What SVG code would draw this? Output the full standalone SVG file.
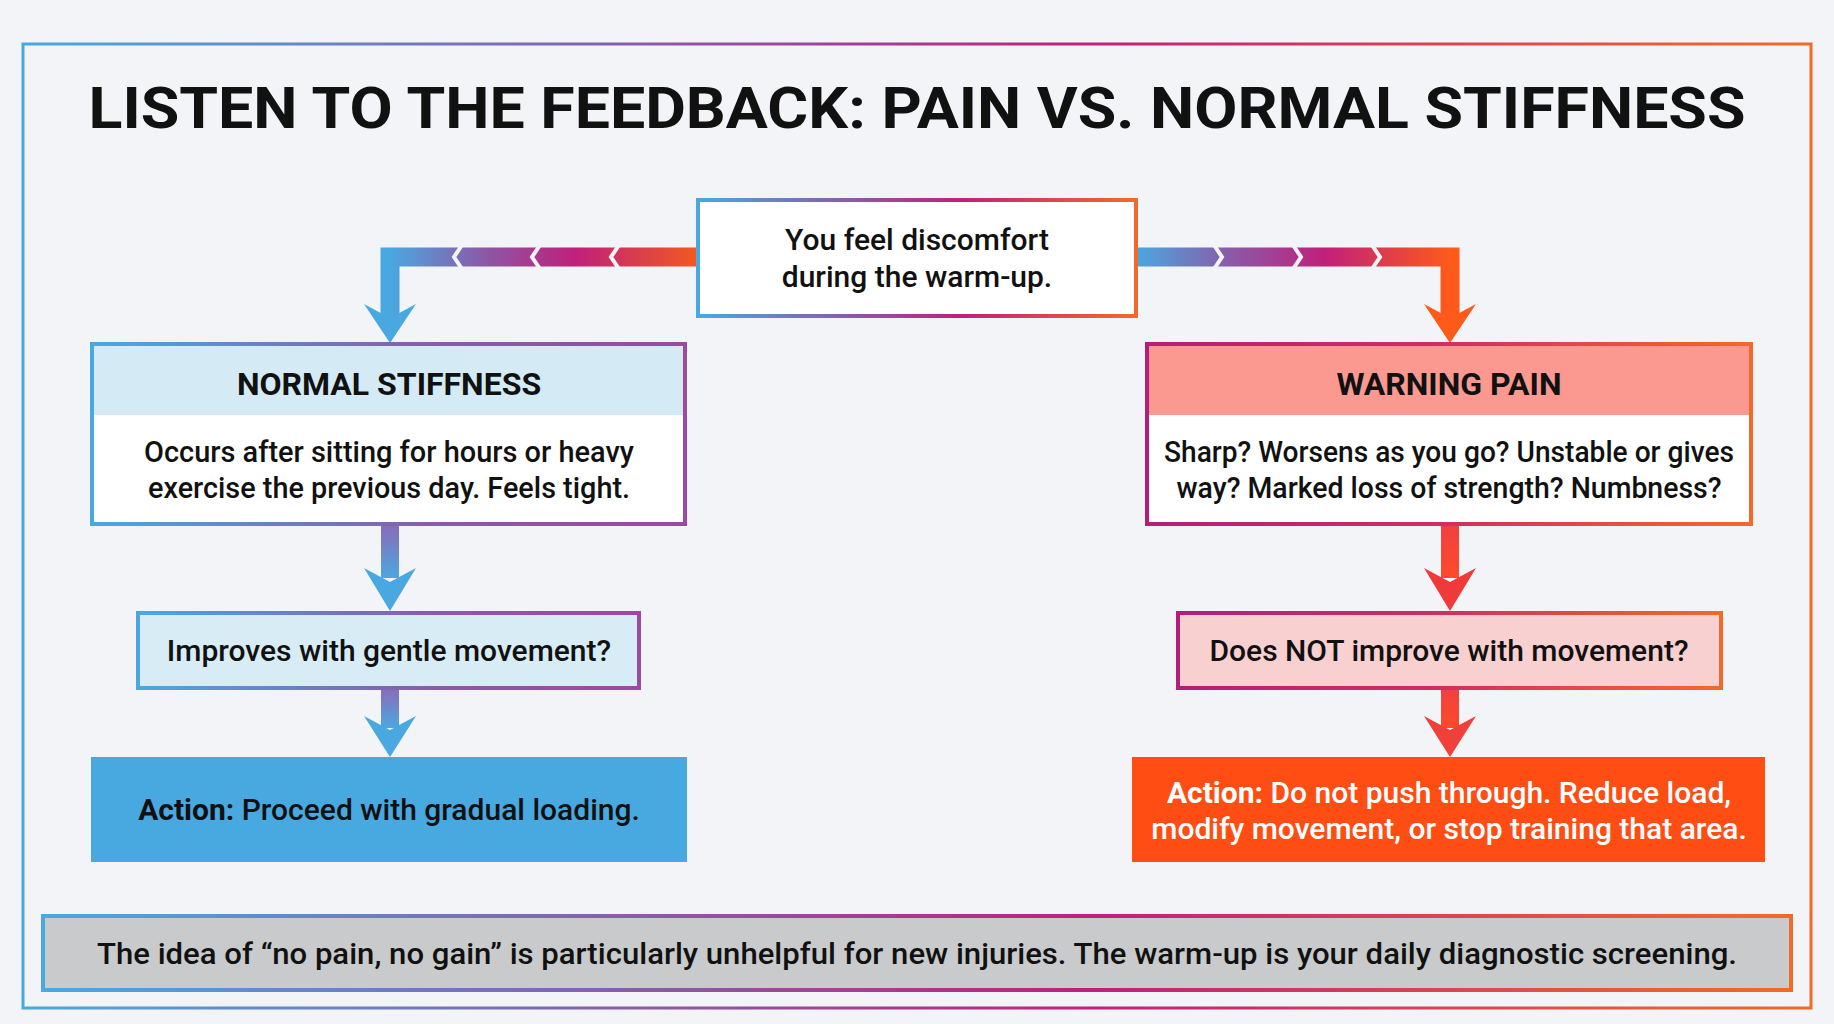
<svg xmlns="http://www.w3.org/2000/svg" width="1834" height="1024" viewBox="0 0 1834 1024">
<defs>
<linearGradient id="g" x1="0" y1="0" x2="1" y2="0"><stop offset="0" stop-color="#4aa8e0"/><stop offset="0.35" stop-color="#8a5aa8"/><stop offset="0.6" stop-color="#c0207a"/><stop offset="1" stop-color="#f26a2a"/></linearGradient>
<linearGradient id="gL" x1="0" y1="0" x2="1" y2="0"><stop offset="0" stop-color="#4aa8e0"/><stop offset="0.6" stop-color="#8a5aa8"/><stop offset="1" stop-color="#9a4aa0"/></linearGradient>
<linearGradient id="gR" x1="0" y1="0" x2="1" y2="0"><stop offset="0" stop-color="#b0207a"/><stop offset="0.5" stop-color="#d03060"/><stop offset="1" stop-color="#f26a2a"/></linearGradient>
<linearGradient id="gl" x1="1" y1="0" x2="0" y2="0"><stop offset="0" stop-color="#f25a20"/><stop offset="0.4" stop-color="#c0207a"/><stop offset="0.7" stop-color="#8a5aa8"/><stop offset="1" stop-color="#4aa8e0"/></linearGradient>
<linearGradient id="gr" x1="0" y1="0" x2="1" y2="0"><stop offset="0" stop-color="#4aa8e0"/><stop offset="0.3" stop-color="#8a5aa8"/><stop offset="0.6" stop-color="#c0207a"/><stop offset="1" stop-color="#ff5a1a"/></linearGradient>
<linearGradient id="gb" x1="0" y1="0" x2="0" y2="1"><stop offset="0" stop-color="#8a6ab8"/><stop offset="1" stop-color="#4aa8e0"/></linearGradient>
<linearGradient id="go" x1="0" y1="0" x2="0" y2="1"><stop offset="0" stop-color="#f04040"/><stop offset="1" stop-color="#ff4a2a"/></linearGradient>
<style>
text{font-family:Roboto,"Liberation Sans",sans-serif;fill:#111;text-anchor:middle}
.t{font-size:30px;font-weight:500}
.h{font-size:32px;font-weight:700}
.box{stroke:url(#g);stroke-width:4}
.bl{stroke:url(#gL);stroke-width:4}
.br{stroke:url(#gR);stroke-width:4}
</style>
</defs>
<rect width="1834" height="1024" fill="#f2f4f7"/>
<rect x="23" y="44" width="1788" height="964" fill="none" stroke="url(#g)" stroke-width="3"/>
<text x="917" y="128" font-size="58" font-weight="700" textLength="1657" lengthAdjust="spacingAndGlyphs">LISTEN TO THE FEEDBACK: PAIN VS. NORMAL STIFFNESS</text>
<g id="connectors">
<path d="M698 257 H390 V320" fill="none" stroke="url(#gl)" stroke-width="19"/>
<path d="M1136 257 H1450 V320" fill="none" stroke="url(#gr)" stroke-width="19"/>
<g fill="none" stroke="#f2f4f7" stroke-width="4">
<path d="M462 245 L454 257 L462 269"/><path d="M540 245 L532 257 L540 269"/><path d="M619 245 L611 257 L619 269"/>
<path d="M1214 245 L1222 257 L1214 269"/><path d="M1293 245 L1301 257 L1293 269"/><path d="M1372 245 L1380 257 L1372 269"/>
</g>
<polygon points="364,304 390,318 416,304 390,343" fill="#4aa8e0"/>
<polygon points="1424,304 1450,318 1476,304 1450,343" fill="#ff5a1a"/>
<rect x="381" y="524" width="18" height="54" fill="url(#gb)"/>
<polygon points="364,568 390,582 416,568 390,611" fill="#4aa8e0"/>
<rect x="381" y="688" width="18" height="40" fill="url(#gb)"/>
<polygon points="364,716 390,730 416,716 390,757" fill="#4aa8e0"/>
<rect x="1441" y="524" width="18" height="54" fill="url(#go)"/>
<polygon points="1424,568 1450,582 1476,568 1450,611" fill="#f03a3a"/>
<rect x="1441" y="688" width="18" height="40" fill="url(#go)"/>
<polygon points="1424,716 1450,730 1476,716 1450,757" fill="#f0403a"/>
</g>
<g id="start"><rect x="698" y="200" width="438" height="116" fill="#fff" class="box"/>
<text class="t" x="917" y="250">You feel discomfort</text><text class="t" x="917" y="287">during the warm-up.</text></g>
<g id="normal"><rect x="92" y="344" width="593" height="180" fill="#fff" class="bl"/>
<rect x="94" y="346" width="589" height="69" fill="#d4ebf5"/><line x1="92" y1="415" x2="685" y2="415" stroke="url(#gL)" stroke-width="4"/>
<text class="h" x="389" y="395">NORMAL STIFFNESS</text>
<text class="t" x="389" y="462" textLength="490" lengthAdjust="spacingAndGlyphs">Occurs after sitting for hours or heavy</text><text class="t" x="389" y="498" textLength="482" lengthAdjust="spacingAndGlyphs">exercise the previous day. Feels tight.</text></g>
<g id="warning"><rect x="1147" y="344" width="604" height="180" fill="#fff" class="br"/>
<rect x="1149" y="346" width="600" height="69" fill="#fb9890"/><line x1="1147" y1="415" x2="1751" y2="415" stroke="url(#gR)" stroke-width="4"/>
<text class="h" x="1449" y="395">WARNING PAIN</text>
<text class="t" x="1449" y="462" textLength="570" lengthAdjust="spacingAndGlyphs">Sharp? Worsens as you go? Unstable or gives</text><text class="t" x="1449" y="498" textLength="545" lengthAdjust="spacingAndGlyphs">way? Marked loss of strength? Numbness?</text></g>
<g id="improves"><rect x="138" y="613" width="501" height="75" fill="#d8ecf5" class="bl"/>
<text class="t" x="389" y="661">Improves with gentle movement?</text></g>
<g id="notimprove"><rect x="1178" y="613" width="543" height="75" fill="#f8d0d0" class="br"/>
<text class="t" x="1449" y="661">Does NOT improve with movement?</text></g>
<g id="actionL"><rect x="91" y="757" width="596" height="105" fill="#48a8e0"/>
<text class="t" x="389" y="820"><tspan font-weight="700">Action:</tspan> Proceed with gradual loading.</text></g>
<g id="actionR"><rect x="1132" y="757" width="633" height="105" fill="#ff4d14"/>
<text class="t" x="1449" y="803" style="fill:#fff"><tspan font-weight="700" style="fill:#fff">Action:</tspan> Do not push through. Reduce load,</text>
<text class="t" x="1449" y="839" style="fill:#fff">modify movement, or stop training that area.</text></g>
<g id="note"><rect x="43" y="916" width="1748" height="74" fill="#c9cacc" class="box"/>
<text class="t" x="917" y="964" textLength="1640" lengthAdjust="spacingAndGlyphs">The idea of “no pain, no gain” is particularly unhelpful for new injuries. The warm-up is your daily diagnostic screening.</text></g>
</svg>
